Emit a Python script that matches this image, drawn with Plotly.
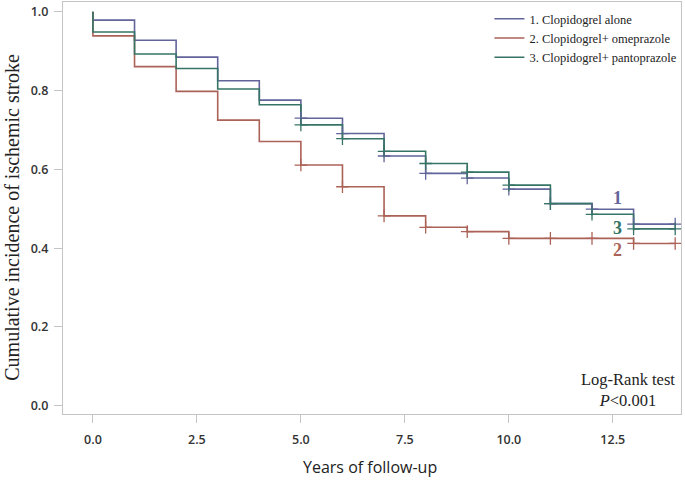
import plotly.graph_objects as go

# Data
years = [0, 1, 2, 3, 4, 5, 6, 7, 8, 9, 10, 11, 12, 13, 14]
start_value = 1.0
alone = [0.979, 0.928, 0.885, 0.825, 0.776, 0.730, 0.691, 0.634, 0.590, 0.578, 0.550, 0.513, 0.499, 0.461]
omeprazole = [0.939, 0.861, 0.798, 0.725, 0.671, 0.611, 0.556, 0.482, 0.453, 0.442, 0.425, 0.425, 0.425, 0.412]
pantoprazole = [0.949, 0.893, 0.856, 0.804, 0.764, 0.713, 0.678, 0.646, 0.615, 0.593, 0.560, 0.513, 0.486, 0.449]
censor_years = [5, 6, 7, 8, 9, 10, 11, 12, 13, 14]

names = ["1. Clopidogrel alone", "2. Clopidogrel+ omeprazole", "3. Clopidogrel+ pantoprazole"]
series = [alone, omeprazole, pantoprazole]
colors = ["#62649a", "#ab6257", "#367466"]
x_ticks = [0.0, 2.5, 5.0, 7.5, 10.0, 12.5]
y_ticks = [0.0, 0.2, 0.4, 0.6, 0.8, 1.0]

fig = go.Figure()
for name, vals, col in zip(names, series, colors):
    xs = [years[0]] + years
    ys = [start_value] + vals + [vals[-1]]
    fig.add_trace(go.Scatter(x=xs, y=ys, mode="lines", line_shape="hv",
                             line=dict(color=col, width=1.6), name=name))
for name, vals, col in zip(names, series, colors):
    cy = [vals[min(t, len(vals) - 1)] for t in censor_years]
    fig.add_trace(go.Scatter(x=censor_years, y=cy, mode="markers", showlegend=False,
                             cliponaxis=False,
                             marker=dict(symbol="cross-thin", size=9,
                                         line=dict(color=col, width=1.3)),
                             hoverinfo="skip"))

# end-of-curve numbers
fig.add_annotation(x=12.62, y=alone[-2], text="<b>1</b>", showarrow=False, yshift=11,
                   font=dict(family="Liberation Serif", size=18, color=colors[0]))
fig.add_annotation(x=12.62, y=pantoprazole[-1], text="<b>3</b>", showarrow=False, yshift=1,
                   font=dict(family="Liberation Serif", size=18, color=colors[2]))
fig.add_annotation(x=12.62, y=omeprazole[-1], text="<b>2</b>", showarrow=False, yshift=-7,
                   font=dict(family="Liberation Serif", size=18, color=colors[1]))

fig.add_annotation(x=0.914, y=0.058, xref="paper", yref="paper", showarrow=False,
                   xanchor="center", yanchor="middle",
                   text="Log-Rank test<br><i>P</i>&lt;0.001", align="center",
                   font=dict(family="Liberation Serif", size=16.5, color="#222"))

# axis titles
fig.add_annotation(x=-0.083, y=0.478, xref="paper", yref="paper", showarrow=False,
                   xanchor="center", yanchor="middle", textangle=-90,
                   text="Cumulative incidence of ischemic stroke",
                   font=dict(family="Liberation Serif", size=20, color="#222"))
fig.add_annotation(x=0.497, y=-0.1286, xref="paper", yref="paper", showarrow=False,
                   xanchor="center", yanchor="middle",
                   text="Years of follow-up",
                   font=dict(family="Open Sans", size=16, color="#222"))

axis_common = dict(showline=True, linecolor="#c4c4c4", linewidth=1.2, mirror=True,
                   showgrid=False, zeroline=False, ticks="outside", ticklen=8,
                   tickcolor="#c4c4c4", automargin=False,
                   tickfont=dict(family="Open Sans", size=12.5, color="#333", weight=600))

fig.update_layout(
    width=685, height=483,
    margin=dict(l=63, r=4, t=2, b=69),
    plot_bgcolor="white", paper_bgcolor="white",
    xaxis=dict(range=[-0.72, 14.14], tickvals=x_ticks,
               ticktext=[f"{v:.1f}" for v in x_ticks], ticklabelstandoff=6,
               **axis_common),
    yaxis=dict(range=[-0.021, 1.025], tickvals=y_ticks,
               ticktext=[f"{v:.1f}" for v in y_ticks], ticklabelstandoff=3,
               **axis_common),
    legend=dict(x=0.690, y=0.995, xanchor="left", yanchor="top",
                bgcolor="rgba(0,0,0,0)",
                font=dict(family="Liberation Serif", size=12.5, color="#222"),
                tracegroupgap=0),
    showlegend=True,
)

fig.write_html("out.html", config={"displayModeBar": False},
               post_script="document.body.style.margin='0';document.body.style.overflow='hidden';")
